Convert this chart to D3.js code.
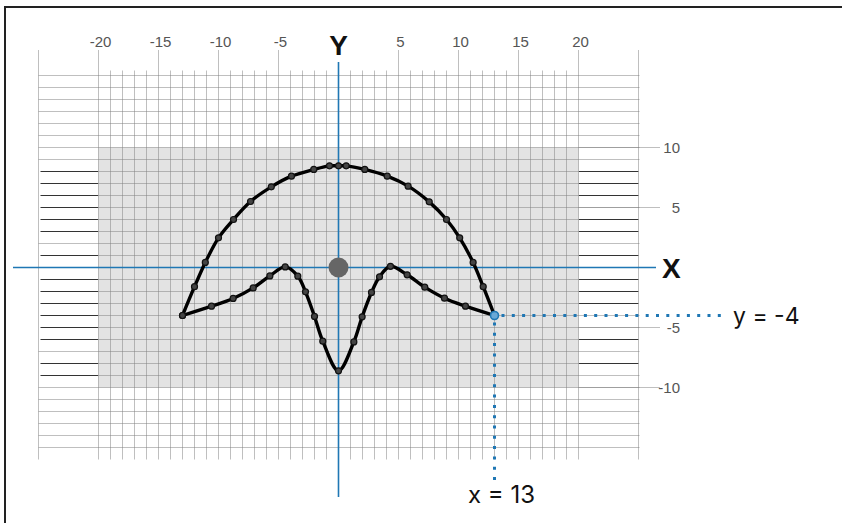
<!DOCTYPE html>
<html>
<head>
<meta charset="utf-8">
<script src="https://cdn.jsdelivr.net/npm/d3@7"></script>
<style>
  html, body { margin: 0; padding: 0; background: #fff; }
  svg { display: block; }
</style>
</head>
<body>
<svg id="chart" width="842" height="523"></svg>
<script>
// ---- data ----
const topTickValues = [-20, -15, -10, -5, 5, 10, 15, 20];
const majorXLines = [-25, -20, -15, -10, -5, 5, 10, 15, 20, 25];
const rightTickValues = [10, 5, -5, -10];
const darkLinesLeft = [8, 7, 6, 5, 4, 3, 1, -1, -2, -3, -4, -5, -6, -8, -9];
const darkLinesRight = [8, 7, 6, 4, 3, 1, -1, -2, -3, -6, -8];

// upper arc
const arcX = [-13, -12, -11.1, -10, -8.75, -7.33, -5.6, -3.92, -2.06, -0.75, 0, 0.64, 2.19, 4.06, 5.8, 7.56, 9.0, 10.1, 11.22, 12.06, 13];
const arcY = [-4, -1.6, 0.42, 2.47, 4.0, 5.5, 6.72, 7.61, 8.17, 8.47, 8.47, 8.47, 8.17, 7.61, 6.78, 5.47, 4.0, 2.47, 0.42, -1.6, -4];
// lower curve
const lowX = [-13, -10.58, -8.78, -7.11, -5.72, -4.44, -3.39, -2.75, -2.0, -1.31, 0, 1.28, 1.97, 2.75, 3.42, 4.33, 5.72, 7.19, 8.83, 10.58, 13];
const lowY = [-4, -3.22, -2.58, -1.7, -0.7, 0.05, -0.72, -2.03, -4.08, -6.14, -8.61, -6.2, -4.11, -2.08, -0.78, 0.1, -0.61, -1.64, -2.56, -3.22, -4];

const highlight = {x: 13, y: -4};
const centerDot = {x: 0, y: 0};

// ---- drawing ----
const svg = d3.select("#chart");
const x = d3.scaleLinear().domain([-25, 25]).range([38.5, 638.5]);
const y = d3.scaleLinear().domain([-16, 16]).range([459.5, 75.5]);

const blue = "#1f77b4";
const tickFont = "Liberation Sans, Arial, sans-serif";

// frame
svg.append("rect").attr("x", 5).attr("y", 7).attr("width", 900).attr("height", 600)
  .attr("fill", "none").attr("stroke", "#222").attr("stroke-width", 2);

// dark margin lines
const gDark = svg.append("g").attr("stroke", "#333").attr("stroke-width", 1);
gDark.selectAll("line.l").data(darkLinesLeft).join("line").attr("class", "l")
  .attr("x1", x(-25) + 2).attr("x2", x(-20)).attr("y1", d => y(d)).attr("y2", d => y(d));
gDark.selectAll("line.r").data(darkLinesRight).join("line").attr("class", "r")
  .attr("x1", x(20)).attr("x2", x(25)).attr("y1", d => y(d)).attr("y2", d => y(d));

// gray rect
svg.append("rect")
  .attr("x", x(-20)).attr("y", y(10))
  .attr("width", x(20) - x(-20)).attr("height", y(-10) - y(10))
  .attr("fill", "#e3e3e3");

// grid
const gGrid = svg.append("g").attr("stroke", "#808080").attr("stroke-opacity", 0.5).attr("stroke-width", 1);
const hVals = d3.range(-15, 17).filter(v => v !== 0);
gGrid.selectAll("line.h").data(hVals).join("line").attr("class", "h")
  .attr("x1", d => darkLinesLeft.includes(d) ? x(-20) : x(-25))
  .attr("x2", d => darkLinesRight.includes(d) ? x(20) : x(25) + 1)
  .attr("y1", d => y(d)).attr("y2", d => y(d));
const vVals = d3.range(-19, 20).filter(v => v % 5 !== 0);
gGrid.selectAll("line.v").data(vVals).join("line").attr("class", "v")
  .attr("x1", d => x(d)).attr("x2", d => x(d))
  .attr("y1", y(16) - 5).attr("y2", y(-16));

// major vertical lines
svg.append("g").attr("stroke", "#808080").attr("stroke-opacity", 0.5)
  .selectAll("line").data(majorXLines).join("line")
  .attr("x1", d => x(d)).attr("x2", d => x(d))
  .attr("y1", 50).attr("y2", y(-16));

// top labels
svg.append("g").selectAll("text").data(topTickValues).join("text")
  .attr("x", d => x(d) + 2).attr("y", 47)
  .attr("text-anchor", "middle")
  .attr("font-family", tickFont).attr("font-size", 15).attr("fill", "#555")
  .text(d => d);

// right ticks
svg.append("g").attr("stroke", "#808080").attr("stroke-opacity", 0.5)
  .selectAll("line").data(rightTickValues).join("line")
  .attr("x1", x(20)).attr("x2", 660).attr("y1", d => y(d)).attr("y2", d => y(d));
svg.append("g").selectAll("text").data(rightTickValues).join("text")
  .attr("x", 680).attr("y", d => y(d)).attr("dy", "0.36em")
  .attr("text-anchor", "end")
  .attr("font-family", tickFont).attr("font-size", 15).attr("fill", "#555")
  .text(d => d);

// axes
svg.append("line").attr("x1", 13).attr("x2", 656).attr("y1", y(0)).attr("y2", y(0))
  .attr("stroke", blue).attr("stroke-width", 1.6);
svg.append("line").attr("x1", x(0)).attr("x2", x(0)).attr("y1", 62).attr("y2", 497)
  .attr("stroke", blue).attr("stroke-width", 1.6);

svg.append("text").attr("x", x(0)).attr("y", 55).attr("text-anchor", "middle")
  .attr("font-family", tickFont).attr("font-weight", "bold").attr("font-size", 28).attr("fill", "#111")
  .text("Y");
svg.append("text").attr("x", 662).attr("y", y(0) + 10)
  .attr("font-family", tickFont).attr("font-weight", "bold").attr("font-size", 28).attr("fill", "#111")
  .text("X");

// center dot
svg.append("circle").attr("cx", x(centerDot.x)).attr("cy", y(centerDot.y)).attr("r", 10)
  .attr("fill", "#666");

// curves
const line = d3.line().x(d => x(d[0])).y(d => y(d[1])).curve(d3.curveCatmullRom.alpha(0.5));
const arcPts = arcX.map((v, i) => [v, arcY[i]]);
const lowPts = lowX.map((v, i) => [v, lowY[i]]);
[arcPts, lowPts].forEach(pts => {
  svg.append("path").attr("d", line(pts)).attr("fill", "none")
    .attr("stroke", "#000").attr("stroke-width", 3.4).attr("stroke-linejoin", "round");
});
const allPts = arcPts.concat(lowPts).filter(p => !(p[0] === highlight.x && p[1] === highlight.y));
svg.append("g").selectAll("circle").data(allPts).join("circle")
  .attr("cx", d => x(d[0])).attr("cy", d => y(d[1])).attr("r", 3)
  .attr("fill", "#444").attr("stroke", "#111").attr("stroke-width", 1.2);

// annotation
const hx = x(highlight.x), hy = y(highlight.y);
svg.append("line").attr("x1", hx + 7).attr("x2", 724).attr("y1", hy).attr("y2", hy)
  .attr("stroke", blue).attr("stroke-width", 3).attr("stroke-dasharray", "3,7.3");
svg.append("line").attr("x1", hx).attr("x2", hx).attr("y1", hy + 7).attr("y2", 480)
  .attr("stroke", blue).attr("stroke-width", 3).attr("stroke-dasharray", "3,7.3");
svg.append("circle").attr("cx", hx).attr("cy", hy).attr("r", 4)
  .attr("fill", "#6aa8d6").attr("stroke", blue).attr("stroke-width", 1.6);

svg.append("text").attr("x", 733).attr("y", hy).attr("dy", "0.36em")
  .attr("font-family", "Inter, Roboto, sans-serif").attr("font-size", 23).attr("fill", "#111")
  .text("y = -4");
svg.append("text").attr("x", hx + 7).attr("y", 503).attr("text-anchor", "middle")
  .attr("font-family", "Inter, Roboto, sans-serif").attr("font-size", 24).attr("fill", "#111")
  .text("x = " + highlight.x);
</script>
</body>
</html>
